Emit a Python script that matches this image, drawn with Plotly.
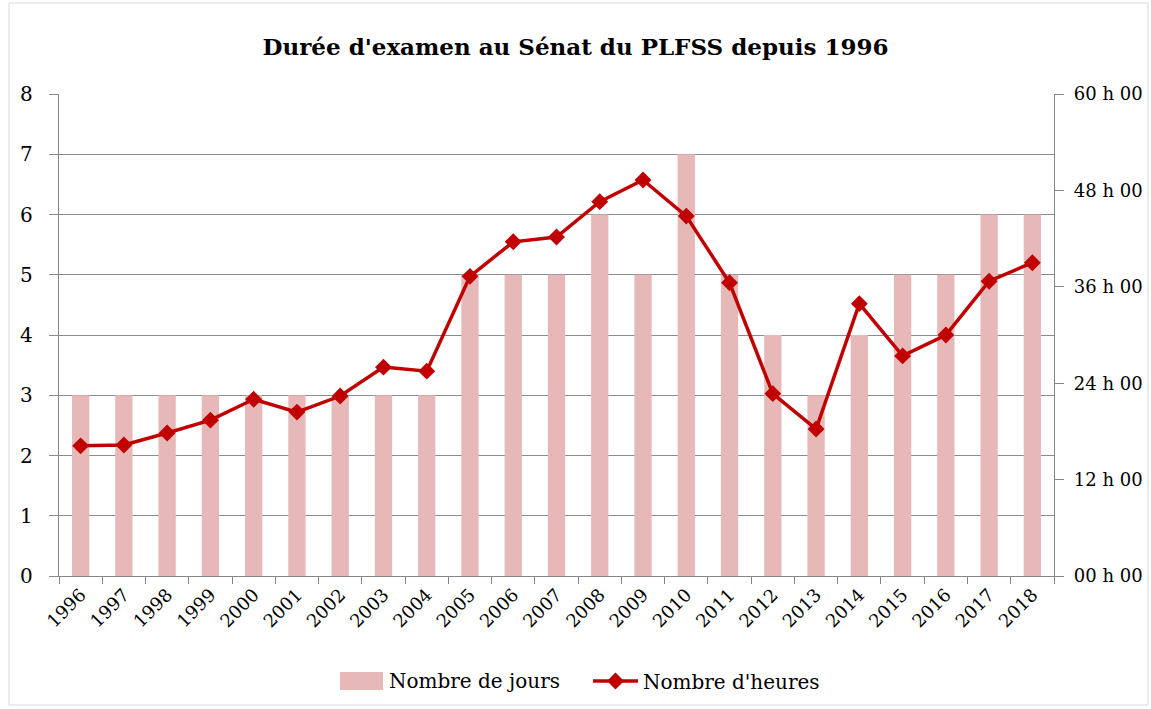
import plotly.graph_objects as go

years = [str(y) for y in range(1996, 2019)]
jours = [3, 3, 3, 3, 3, 3, 3, 3, 3, 5, 5, 5, 6, 5, 7, 5, 4, 3, 4, 5, 5, 6, 6]
heures = [16.2, 16.3, 17.8, 19.4, 22.0, 20.4, 22.4, 26.0, 25.5, 37.3, 41.6, 42.2,
          46.6, 49.3, 44.8, 36.5, 22.7, 18.3, 33.9, 27.4, 30.0, 36.7, 39.0]
h_ticks = [0, 12, 24, 36, 48, 60]
h_labels = ["00 h 00", "12 h 00", "24 h 00", "36 h 00", "48 h 00", "60 h 00"]

FONT = "DejaVu Serif"
W, H = 1151, 709
L, R, T, B = 59, 97, 94, 133
BAR_COLOR = "#E6B9B8"

fig = go.Figure()
fig.add_trace(go.Bar(x=years, y=jours, name="Nombre de jours", showlegend=False,
                     marker=dict(color=BAR_COLOR, line=dict(width=0)), yaxis="y"))
fig.add_trace(go.Scatter(x=years, y=heures, name="Nombre d'heures", mode="lines+markers",
                         line=dict(color="#C00000", width=3.5),
                         marker=dict(symbol="diamond", size=13, color="#C00000"),
                         yaxis="y2"))

pw = W - L - R
ph = H - T - B


def px(x):
    return (x - L) / pw


def py(y):
    return (H - B - y) / ph


fig.update_layout(
    width=W, height=H,
    margin=dict(l=L, r=R, t=T, b=B, autoexpand=False),
    paper_bgcolor="white", plot_bgcolor="white",
    font=dict(family=FONT, color="black", size=18),
    title=dict(text="<b>Durée d'examen au Sénat du PLFSS depuis 1996</b>",
               x=0.5, xanchor="center", y=1 - 47 / H, yanchor="middle",
               font=dict(size=23, family=FONT)),
    bargap=0.6,
    showlegend=True,
    legend=dict(orientation="h", x=px(588), xanchor="left", y=py(681),
                yanchor="middle", font=dict(size=20, family=FONT),
                itemwidth=45, bgcolor="rgba(0,0,0,0)"),
    xaxis=dict(type="category", range=[-0.5, len(years) - 0.5], tickangle=-45,
               tickson="boundaries",
               ticks="outside", ticklen=7, tickcolor="#868686",
               showline=True, linecolor="#868686", linewidth=1.3,
               showgrid=False, tickfont=dict(size=18, family=FONT)),
    yaxis=dict(range=[0, 8], dtick=1, showgrid=True, gridcolor="#8C8C8C", gridwidth=1.3,
               ticks="outside", ticklen=9, tickcolor="#8C8C8C",
               showline=True, linecolor="#868686", linewidth=1.3,
               zeroline=False, tickfont=dict(size=20, family=FONT), ticklabelstandoff=12),
    yaxis2=dict(range=[0, 60], overlaying="y", side="right", tickvals=h_ticks,
                ticktext=h_labels, showgrid=False, ticks="outside", ticklen=9,
                tickcolor="#868686", showline=True, linecolor="#868686", linewidth=1.3,
                zeroline=False, tickfont=dict(size=18, family=FONT), ticklabelstandoff=6),
    shapes=[
        dict(type="rect", xref="paper", yref="paper",
             x0=px(9), x1=px(1148), y0=py(705), y1=py(3),
             line=dict(color="#D9D9D9", width=1), layer="below"),
        dict(type="rect", xref="paper", yref="paper",
             x0=px(340), x1=px(383), y0=py(690), y1=py(672),
             fillcolor=BAR_COLOR, line=dict(width=0)),
    ],
    annotations=[
        dict(text="Nombre de jours", xref="paper", yref="paper", x=px(387), y=py(681),
             xanchor="left", yanchor="middle", showarrow=False,
             font=dict(size=20, family=FONT)),
    ],
)

fig.write_html("out.html", config={"displayModeBar": False},
               post_script="document.body.style.margin='0px';document.body.style.overflow='hidden';")
